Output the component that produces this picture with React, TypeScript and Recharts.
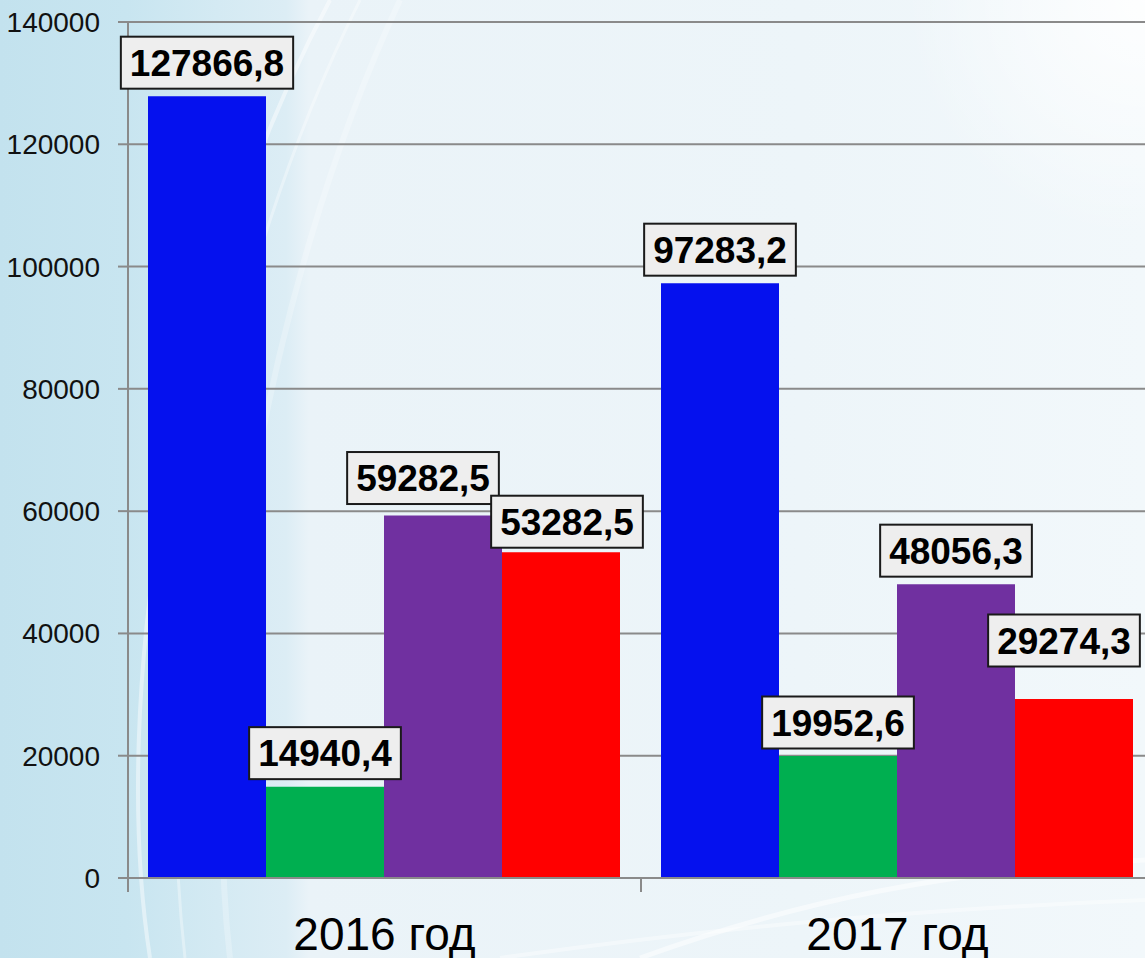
import React from 'react';
import {
  BarChart,
  Bar,
  XAxis,
  YAxis,
  CartesianGrid,
  LabelList,
} from 'recharts';

const CATEGORIES = ['2016 год', '2017 год'];
const SERIES_BLUE = [127866.8, 97283.2];
const SERIES_GREEN = [14940.4, 19952.6];
const SERIES_PURPLE = [59282.5, 48056.3];
const SERIES_RED = [53282.5, 29274.3];
const Y_TICKS = [0, 20000, 40000, 60000, 80000, 100000, 120000, 140000];

const data = CATEGORIES.map((name, i) => ({
  name,
  blue: SERIES_BLUE[i],
  green: SERIES_GREEN[i],
  purple: SERIES_PURPLE[i],
  red: SERIES_RED[i],
}));

// hand-moved labels, like in the original slide
const NUDGE: Record<string, [number, number][]> = {
  blue: [[0, 0], [0, 0]],
  green: [[0, 0], [0, 0]],
  purple: [[-20, -4], [0, 0]],
  red: [[6, 3], [-10, -25]],
};

const FONT = '"Liberation Sans", Arial, sans-serif';
const AXIS_GRAY = '#8a8a8a';

const makeLabel = (key: string) => (props: any) => {
  const { x, y, width, value, index } = props;
  const text = Number(value).toFixed(1).replace('.', ',');
  const fs = 37;
  const digits = text.length - 1;
  const boxW = fs * (digits * 0.556 + 0.278) + 18;
  const boxH = 52;
  const [dx, dy] = NUDGE[key][index] || [0, 0];
  const cx = x + width / 2 + dx;
  const top = y - 7.5 - boxH + dy;
  return (
    <g>
      <rect
        x={cx - boxW / 2}
        y={top}
        width={boxW}
        height={boxH}
        fill="#eeeeee"
        stroke="#1a1a1a"
        strokeWidth={2}
      />
      <text
        x={cx}
        y={top + 39}
        textAnchor="middle"
        fontSize={fs}
        fontWeight="bold"
        fontFamily={FONT}
        fill="#000"
      >
        {text}
      </text>
    </g>
  );
};

const YearTick = (props: any) => {
  const { x, y, payload, index } = props;
  const count = props.visibleTicksCount || CATEGORIES.length;
  const band = typeof props.width === 'number' ? props.width / count : 513;
  return (
    <g>
      <line x1={x - band / 2} y1={y} x2={x - band / 2} y2={y + 14} stroke={AXIS_GRAY} strokeWidth={2} />
      {index === count - 1 && (
        <line x1={x + band / 2} y1={y} x2={x + band / 2} y2={y + 14} stroke={AXIS_GRAY} strokeWidth={2} />
      )}
      <text x={x} y={y + 72} textAnchor="middle" fontSize={46} fontFamily={FONT} fill="#000">
        {payload.value}
      </text>
    </g>
  );
};

function Backdrop() {
  return (
    <svg width={1145} height={958} style={{ position: 'absolute', left: 0, top: 0 }}>
      <defs>
        <linearGradient id="bg" x1="0" y1="0" x2="1" y2="0">
          <stop offset="0%" stopColor="#c3e2ee" />
          <stop offset="11%" stopColor="#c8e5f0" />
          <stop offset="19%" stopColor="#d4eaf3" />
          <stop offset="25%" stopColor="#dcedf5" />
          <stop offset="27%" stopColor="#eaf3f8" />
          <stop offset="70%" stopColor="#edf5f9" />
          <stop offset="100%" stopColor="#f2f8fb" />
        </linearGradient>
        <radialGradient id="glow" cx="1" cy="0" r="0.6">
          <stop offset="0%" stopColor="#ffffff" stopOpacity={0.9} />
          <stop offset="100%" stopColor="#ffffff" stopOpacity={0} />
        </radialGradient>
      </defs>
      <rect width={1145} height={958} fill="url(#bg)" />
      <rect x={745} y={0} width={400} height={400} fill="url(#glow)" />
      <path d="M150 958 C 110 700, 170 300, 330 0" stroke="#ffffff" strokeOpacity={0.45} strokeWidth={4} fill="none" />
      <path d="M185 958 C 150 650, 220 280, 360 0" stroke="#ffffff" strokeOpacity={0.35} strokeWidth={3} fill="none" />
      <path d="M230 958 C 200 700, 260 300, 400 0" stroke="#ffffff" strokeOpacity={0.25} strokeWidth={6} fill="none" />
      <path d="M640 958 C 800 900, 950 870, 1145 860" stroke="#ffffff" strokeOpacity={0.5} strokeWidth={5} fill="none" />
      <path d="M500 958 C 700 930, 900 910, 1145 900" stroke="#ffffff" strokeOpacity={0.4} strokeWidth={4} fill="none" />
    </svg>
  );
}

export default function App() {
  return (
    <div
      style={{
        position: 'absolute',
        left: 0,
        top: 0,
        width: 1145,
        height: 958,
        overflow: 'hidden',
        fontFamily: FONT,
      }}
    >
      <Backdrop />
      <div style={{ position: 'absolute', left: 0, top: 0 }}>
        <BarChart
          width={1154}
          height={958}
          data={data}
          margin={{ top: 22, right: 0, bottom: 0, left: 0 }}
          barGap={0}
          barCategoryGap={20}
        >
          <CartesianGrid vertical={false} stroke={AXIS_GRAY} strokeWidth={2} />
          <XAxis
            dataKey="name"
            height={80}
            axisLine={{ stroke: AXIS_GRAY, strokeWidth: 2 }}
            tickLine={false}
            tickSize={0}
            tickMargin={0}
            tick={<YearTick />}
            interval={0}
          />
          <YAxis
            width={128}
            domain={[0, 140000]}
            ticks={Y_TICKS}
            interval={0}
            axisLine={{ stroke: AXIS_GRAY, strokeWidth: 2 }}
            tickLine={{ stroke: AXIS_GRAY, strokeWidth: 2 }}
            tickSize={10}
            tickMargin={18}
            tick={{ fontSize: 28, fill: '#111', fontFamily: FONT }}
          />
          <Bar dataKey="blue" fill="#0511ee" isAnimationActive={false}>
            <LabelList dataKey="blue" content={makeLabel('blue')} />
          </Bar>
          <Bar dataKey="green" fill="#00af50" isAnimationActive={false}>
            <LabelList dataKey="green" content={makeLabel('green')} />
          </Bar>
          <Bar dataKey="purple" fill="#7030a0" isAnimationActive={false}>
            <LabelList dataKey="purple" content={makeLabel('purple')} />
          </Bar>
          <Bar dataKey="red" fill="#ff0000" isAnimationActive={false}>
            <LabelList dataKey="red" content={makeLabel('red')} />
          </Bar>
        </BarChart>
      </div>
    </div>
  );
}
